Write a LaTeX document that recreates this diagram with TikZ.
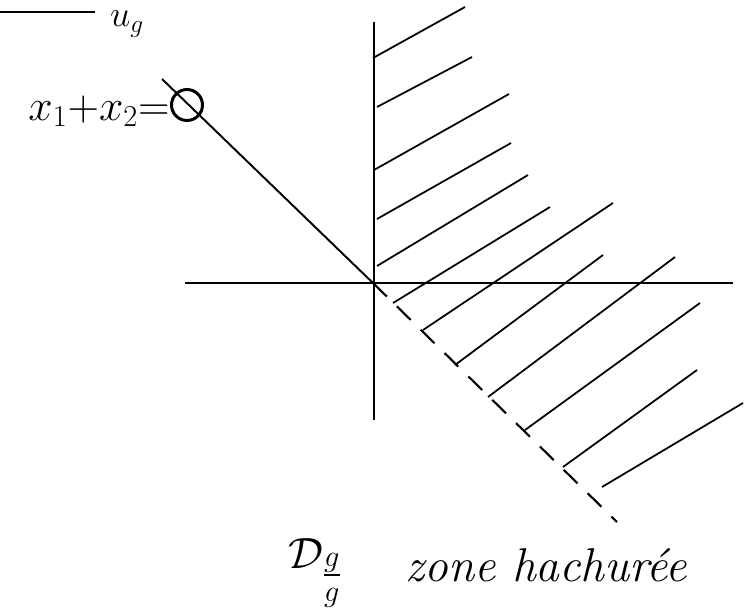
\documentclass[tikz,border=0pt]{standalone}
\usepackage{amsmath}
\begin{document}
\begin{tikzpicture}[x=0.02cm,y=-0.02cm,
  axis/.style={line width=1.3pt},
  hatch/.style={line width=1pt},
  bound/.style={line width=1.1pt},
  dashbound/.style={line width=1.2pt,dash pattern=on 11pt off 8pt},
  bigtxt/.style={font=\fontsize{24}{28}\selectfont, inner sep=0pt},
  handtxt/.style={font=\fontsize{27}{32}\selectfont\itshape, inner sep=0pt}]
\useasboundingbox (0,0) rectangle (744,608);
% top fragment
\coordinate (tl) at (0,12);
\coordinate (tr) at (95,12);
\draw[bound] (tl) -- (tr);
\node[font=\fontsize{20}{22}\selectfont, inner sep=1pt, anchor=base west] (topt) at (108,27) {$u_g$};
% axes
\coordinate (O) at (373,283);
\coordinate (vt) at (374,22);
\coordinate (vb) at (374,420);
\coordinate (hl) at (185,283);
\coordinate (hr) at (733,283);
\draw[axis] (vt) -- (vb);
\draw[axis] (hl) -- (hr);
% boundary line x1+x2=0
\coordinate (lt) at (162,79);
\coordinate (ld) at (617,522);
\draw[bound] (lt) -- (O);
\draw[dashbound] (O) -- (ld);
\node[draw,circle,line width=1.7pt,minimum width=31*0.02cm,inner sep=0pt] (zero) at (187,105) {};
\node[bigtxt,anchor=east] (lbl) at (170,111) {$x_1{+}x_2{=}$};
% hatching
\foreach \a/\b/\c/\d [count=\i] in {373/58/465/7, 377/107/472/57, 374/170/509/94, 377/219/511/143, 377/266/528/175, 393/303/550/207, 423/330/613/203, 455/365/603/255, 488/397/675/257, 525/430/700/303, 563/467/697/370, 602/487/743/403}{
  \coordinate (hs\i) at (\a,\b);
  \coordinate (he\i) at (\c,\d);
  \draw[hatch] (hs\i) -- (he\i);
}
% bottom caption
\node[handtxt,anchor=west] (dom) at (288,573) {$\mathcal{D}_{\textstyle\frac{\scriptstyle g}{\scriptstyle g}}$};
\node[handtxt,anchor=west] (zone) at (405,565) {zone hachurée};
\end{tikzpicture}
\end{document}
